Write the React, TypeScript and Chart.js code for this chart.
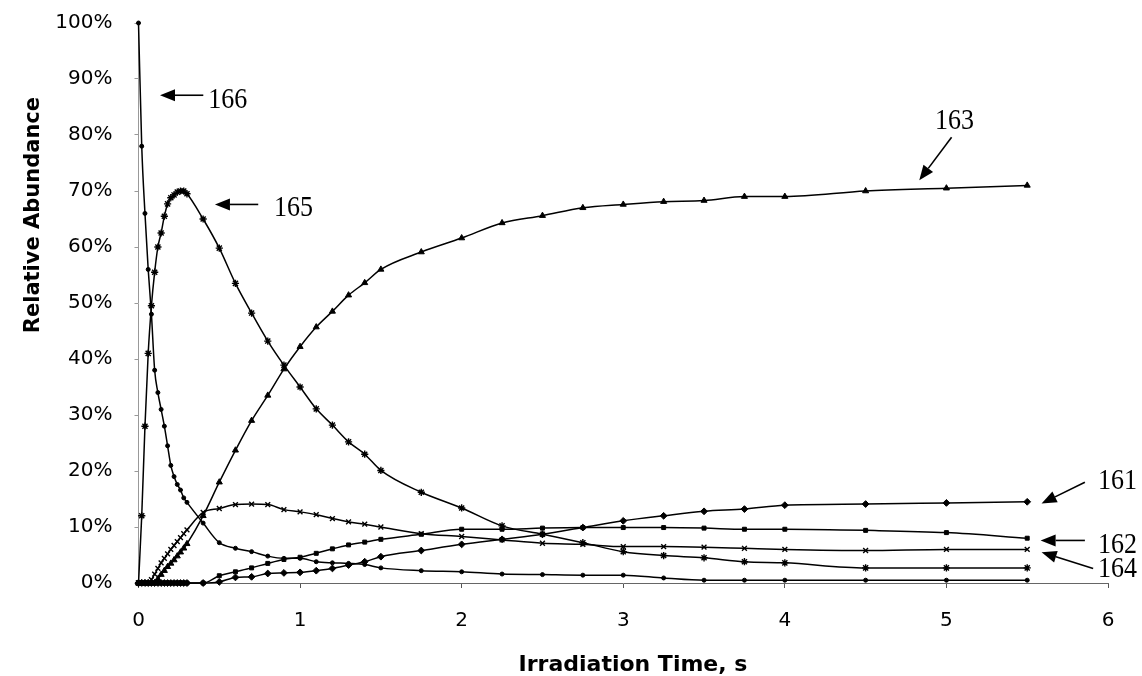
import React, { useEffect, useRef } from 'react';
import { Chart, registerables } from 'chart.js';

Chart.register(...registerables);

// Irradiation time (s)
const TIME = [
  0, 0.02, 0.04, 0.06, 0.08, 0.1, 0.12, 0.14, 0.16, 0.18, 0.2, 0.22, 0.24, 0.26, 0.28, 0.3,
  0.4, 0.5, 0.6, 0.7, 0.8, 0.9, 1, 1.1, 1.2, 1.3, 1.4, 1.5,
  1.75, 2, 2.25, 2.5, 2.75, 3, 3.25, 3.5, 3.75, 4, 4.5, 5, 5.5,
];

// Relative abundance (%) per isotope
const S166 = [
  100, 78, 66, 56, 48, 38, 34, 31, 28, 24.5, 21, 19, 17.6, 16.6, 15.2, 14.4,
  10.7, 7.2, 6.2, 5.6, 4.8, 4.4, 4.4, 3.8, 3.6, 3.5, 3.3, 2.7,
  2.2, 2.0, 1.6, 1.5, 1.4, 1.4, 0.9, 0.5, 0.5, 0.5, 0.5, 0.5, 0.5,
];
const S165 = [
  0, 12, 28, 41, 49.5, 55.5, 60, 62.5, 65.5, 67.7, 68.8, 69.3, 69.8, 70, 70, 69.5,
  65, 59.8, 53.5, 48.2, 43.2, 38.9, 35, 31.1, 28.2, 25.2, 23, 20.1,
  16.2, 13.4, 10.2, 8.7, 7.2, 5.6, 4.9, 4.5, 3.8, 3.6, 2.7, 2.7, 2.7,
];
const S164 = [
  0, 0, 0, 0, 0.6, 1.6, 2.6, 3.6, 4.4, 5.2, 6.0, 6.7, 7.4, 8.1, 8.8, 9.5,
  12.6, 13.3, 14, 14.1, 14, 13.1, 12.7, 12.2, 11.5, 10.9, 10.5, 10,
  8.8, 8.3, 7.7, 7.1, 6.9, 6.5, 6.5, 6.4, 6.2, 6.0, 5.8, 6.0, 6.0,
];
const S163 = [
  0, 0, 0, 0, 0, 0, 0.7, 1.5, 2.2, 2.9, 3.5, 4.1, 4.8, 5.5, 6.2, 7.0,
  12, 18, 23.7, 29, 33.5, 38.2, 42.2, 45.7, 48.5, 51.4, 53.6, 56,
  59.1, 61.6, 64.3, 65.6, 67, 67.6, 68.1, 68.3, 69, 69, 70, 70.5, 71,
];
const S162 = [
  0, 0, 0, 0, 0, 0, 0, 0, 0, 0, 0, 0, 0, 0, 0, 0,
  0, 1.3, 2.0, 2.7, 3.5, 4.2, 4.6, 5.3, 6.1, 6.8, 7.3, 7.8,
  8.7, 9.6, 9.6, 9.8, 9.9, 9.9, 9.9, 9.8, 9.6, 9.6, 9.4, 9.0, 8.0,
];
const S161 = [
  0, 0, 0, 0, 0, 0, 0, 0, 0, 0, 0, 0, 0, 0, 0, 0,
  0, 0.2, 1.0, 1.1, 1.7, 1.8, 1.9, 2.2, 2.6, 3.2, 3.8, 4.7,
  5.8, 6.9, 7.8, 8.7, 9.9, 11.1, 12, 12.8, 13.2, 13.9, 14.1, 14.3, 14.5,
];

// Y axis tick values (%)
const Y_TICKS = [0, 10, 20, 30, 40, 50, 60, 70, 80, 90, 100];

// Annotation labels (data coordinates: time, %)
const ANN_LABELS = ['166', '165', '163', '161', '162', '164'];
const ANN_TEXT_T = [0.432, 0.838, 4.93, 5.938, 5.938, 5.938];
const ANN_TEXT_V = [84.9, 65.5, 81.1, 16.8, 5.3, 1.1];
const ANN_FROM_T = [0.401, 0.741, 5.032, 5.857, 5.857, 5.908];
const ANN_FROM_V = [87.1, 67.6, 79.6, 18.0, 7.6, 2.6];
const ANN_TO_T = [0.133, 0.473, 4.832, 5.589, 5.583, 5.589];
const ANN_TO_V = [87.1, 67.6, 71.9, 14.2, 7.6, 5.5];

const X_TITLE = 'Irradiation Time, s';
const Y_TITLE = 'Relative Abundance';

export default function App() {
  const ref = useRef<HTMLCanvasElement>(null);

  useEffect(() => {
    if (!ref.current) return;
    const pts = (v: number[]) => TIME.map((t, i) => ({ x: t, y: v[i] }));
    const ds = (label: string, v: number[], style: string, r: number, bw = 1) => ({
      label,
      data: pts(v),
      borderColor: '#000',
      backgroundColor: '#000',
      borderWidth: 1.5,
      pointStyle: style,
      pointRadius: r,
      pointBorderColor: '#000',
      pointBackgroundColor: '#000',
      pointBorderWidth: bw,
      cubicInterpolationMode: 'monotone',
      clip: false,
    });

    const drawArrow = (ctx: CanvasRenderingContext2D, x1: number, y1: number, x2: number, y2: number) => {
      const a = Math.atan2(y2 - y1, x2 - x1);
      const L = 15;
      const W = 6;
      const bx = x2 - L * Math.cos(a);
      const by = y2 - L * Math.sin(a);
      ctx.beginPath();
      ctx.moveTo(x1, y1);
      ctx.lineTo(bx, by);
      ctx.stroke();
      ctx.beginPath();
      ctx.moveTo(x2, y2);
      ctx.lineTo(bx + W * Math.sin(a), by - W * Math.cos(a));
      ctx.lineTo(bx - W * Math.sin(a), by + W * Math.cos(a));
      ctx.closePath();
      ctx.fill();
    };

    const annot = {
      id: 'annot',
      afterDraw(chart: any) {
        const ctx: CanvasRenderingContext2D = chart.ctx;
        const xs = chart.scales.x;
        const ys = chart.scales.y;
        ctx.save();
        ctx.fillStyle = '#000';
        ctx.strokeStyle = '#000';
        ctx.lineWidth = 1.6;
        for (let i = 0; i < ANN_LABELS.length; i++) {
          drawArrow(
            ctx,
            xs.getPixelForValue(ANN_FROM_T[i]),
            ys.getPixelForValue(ANN_FROM_V[i]),
            xs.getPixelForValue(ANN_TO_T[i]),
            ys.getPixelForValue(ANN_TO_V[i])
          );
          ctx.save();
          ctx.translate(xs.getPixelForValue(ANN_TEXT_T[i]), ys.getPixelForValue(ANN_TEXT_V[i]));
          ctx.scale(1, 1.14);
          ctx.font = '26px "Liberation Serif", "Times New Roman", serif';
          ctx.textAlign = 'left';
          ctx.textBaseline = 'alphabetic';
          ctx.fillText(ANN_LABELS[i], 0, 0);
          ctx.restore();
        }
        // axis titles
        ctx.font = 'bold 21px "DejaVu Sans", Arial, sans-serif';
        ctx.textAlign = 'center';
        ctx.textBaseline = 'alphabetic';
        ctx.save();
        ctx.translate(39, ys.getPixelForValue(65.7));
        ctx.rotate(-Math.PI / 2);
        ctx.fillText(Y_TITLE, 0, 0);
        ctx.restore();
        ctx.font = 'bold 22px "DejaVu Sans", Arial, sans-serif';
        ctx.fillText(X_TITLE, xs.getPixelForValue(3.06), chart.chartArea.bottom + 88);
        ctx.restore();
      },
    };

    const tickFont = { family: '"DejaVu Sans", Arial, sans-serif', size: 20 };

    const chart = new Chart(ref.current, {
      type: 'line',
      data: {
        datasets: [
          ds('166', S166, 'circle', 2),
          ds('165', S165, 'star', 3.6, 1.4),
          ds('164', S164, 'crossRot', 3.4, 1.4),
          ds('163', S163, 'triangle', 3.5),
          ds('162', S162, 'rect', 2.8),
          ds('161', S161, 'rectRot', 3.4),
        ] as any,
      },
      options: {
        animation: false,
        responsive: true,
        maintainAspectRatio: false,
        layout: { padding: { left: 0, top: 23, right: 34, bottom: 0 } },
        plugins: {
          legend: { display: false },
          tooltip: { enabled: false },
        },
        scales: {
          x: {
            type: 'linear',
            min: 0,
            max: 6,
            afterFit: (s: any) => {
              s.height = 93;
              s.paddingLeft = 10;
              s.paddingRight = 10;
            },
            ticks: { stepSize: 1, color: '#000', font: tickFont, padding: 21 },
            grid: { drawOnChartArea: false, drawTicks: true, tickLength: 5, color: '#555' },
            border: { display: true, color: '#666', width: 1, dash: [6, 3] },
          },
          y: {
            type: 'linear',
            min: 0,
            max: 100,
            afterFit: (s: any) => {
              s.width = 138.5;
              s.paddingTop = 10;
              s.paddingBottom = 10;
            },
            afterBuildTicks: (s: any) => {
              s.ticks = Y_TICKS.map((v) => ({ value: v }));
            },
            ticks: {
              color: '#000',
              font: tickFont,
              padding: 22,
              callback: (v: any) => `${v}%`,
            },
            grid: { drawOnChartArea: false, drawTicks: true, tickLength: 4, color: '#999' },
            border: { display: true, color: '#999', width: 1, dash: [3, 3] },
          },
        },
      } as any,
      plugins: [annot],
    });
    return () => chart.destroy();
  }, []);

  return (
    <div style={{ position: 'absolute', left: 0, top: 0, width: 1142, height: 676, background: '#fff' }}>
      <canvas ref={ref} />
    </div>
  );
}
